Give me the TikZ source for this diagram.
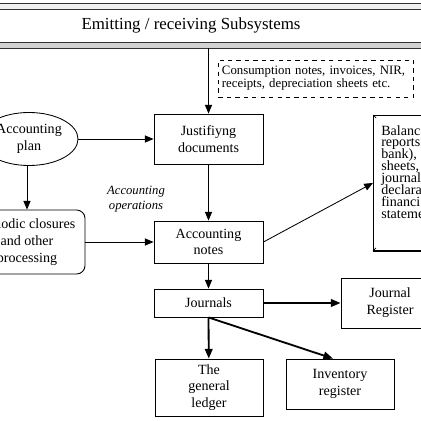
\documentclass[tikz,border=0pt]{standalone}
\usepackage{fontspec}
\setmainfont{Liberation Serif}
\usepackage{tikz}
\usetikzlibrary{shapes.geometric, arrows.meta, positioning, calc}
\newcommand{\fsz}[2]{\fontsize{#1}{#2}\selectfont}
\newcommand{\tightlines}{\lineskiplimit=-100pt\relax}
\tikzset{
  box/.style={
    rectangle, draw, line width=0.6pt,
    minimum width=2.725cm, minimum height=1.25cm,
    align=center, inner sep=1pt, font=\fsz{10}{11.9}},
  rbox/.style={
    box, rounded corners=6pt, minimum width=2.9cm, minimum height=1.6cm},
  oval/.style={
    ellipse, draw, line width=0.6pt,
    minimum width=2.45cm, minimum height=1.325cm,
    align=center, inner sep=0pt, font=\fsz{10}{11.9}},
  notebox/.style={
    rectangle, draw, dashed, line width=0.5pt,
    text width=4.7cm, minimum height=0.925cm,
    align=left, inner sep=2.5pt, font=\fsz{9.1}{9.3}},
  scroll/.style={
    rectangle, draw, line width=0.6pt,
    minimum height=3.375cm, minimum width=2.5cm, inner sep=0pt},
  scrolltext/.style={
    align=left, inner sep=0pt, font={\fsz{10}{8.5}\tightlines}},
  lbl/.style={align=center, font=\fsz{9}{10.7}\itshape},
  arr/.style={-{Triangle[length=2.2mm,width=1.8mm]}, line width=0.6pt},
  arrbold/.style={-{Triangle[length=2.4mm,width=1.9mm]}, line width=1.3pt},
}
\begin{document}
\begin{tikzpicture}[x=0.025cm, y=-0.025cm]
  \useasboundingbox (0,0) rectangle (421,421);
  \clip (0,0) rectangle (421,421);
  % header band
  \fill[gray!12] (0,3) rectangle (421,9);
  \fill[gray!35] (0,42) rectangle (421,48);
  \draw[gray!40!black, line width=0.7pt] (0,3) -- (421,3) (0,9) -- (421,9);
  \draw[gray!40!black, line width=0.7pt] (0,42) -- (421,42) (0,48) -- (421,48);
  \node[font=\fsz{12}{14}] (title) at (191,25) {Emitting / receiving Subsystems};
  \coordinate (hdr) at (208.5,48);
  % nodes
  \node[notebox] (docs) at (316,78.5)
    {Consumption notes, invoices, NIR,\\receipts, depreciation sheets etc.};
  \node[box] (just) at (208.5,139) {Justifiyng\\documents};
  \node[oval] (plan) at (29,139) {Accounting\\plan};
  \node[rbox] (clos) at (27,242) {Periodic closures\\and other\\processing};
  \node[lbl] (ops) at (136,199) {Accounting\\operations};
  \node[box, minimum height=1.05cm] (notes) at (208.5,242) {Accounting\\notes};
  \node[scroll, anchor=north west] (bal) at (373,115) {};
  \node[scrolltext, anchor=north west] (baltext) at ($(bal.north west)+(8,10)$)
    {Balanc\\reports\\bank),\\sheets,\\journal\\declara\\financi\\stateme};
  \node[box, minimum height=0.7cm] (jour) at (208.5,303) {Journals};
  \node[box, minimum width=2.45cm] (jreg) at (390,303) {Journal\\Register};
  \node[box, minimum width=2.7cm, minimum height=1.425cm] (ledg) at (209,387.5)
    {The\\general\\ledger};
  \node[box, minimum width=2.7cm] (inv) at (340,384) {Inventory\\register};
  % scroll corners
  \draw[line width=0.5pt] (bal.north west) -- ++(3,3);
  \draw[line width=0.5pt] (bal.south west) -- ++(3,-3);
  \draw[line width=1pt] (bal.south west) -- (bal.south east);
  % connectors
  \draw[arr] (hdr) -- (just);
  \draw[arr] (plan) -- (just);
  \draw[arr] (plan.south -| clos.north) -- (clos);
  \draw[arr] (just) -- (notes);
  \draw[arr] (clos) -- (notes);
  \draw[arr] (notes) -- (jour);
  \draw[arr] (notes.east) -- (bal.west);
  \draw[arrbold] (jour) -- (jreg);
  \draw[arrbold] (jour.south) -- (ledg);
  \draw[arrbold] (jour.south) -- ($(inv.north)+(-7,0)$);
\end{tikzpicture}
\end{document}
